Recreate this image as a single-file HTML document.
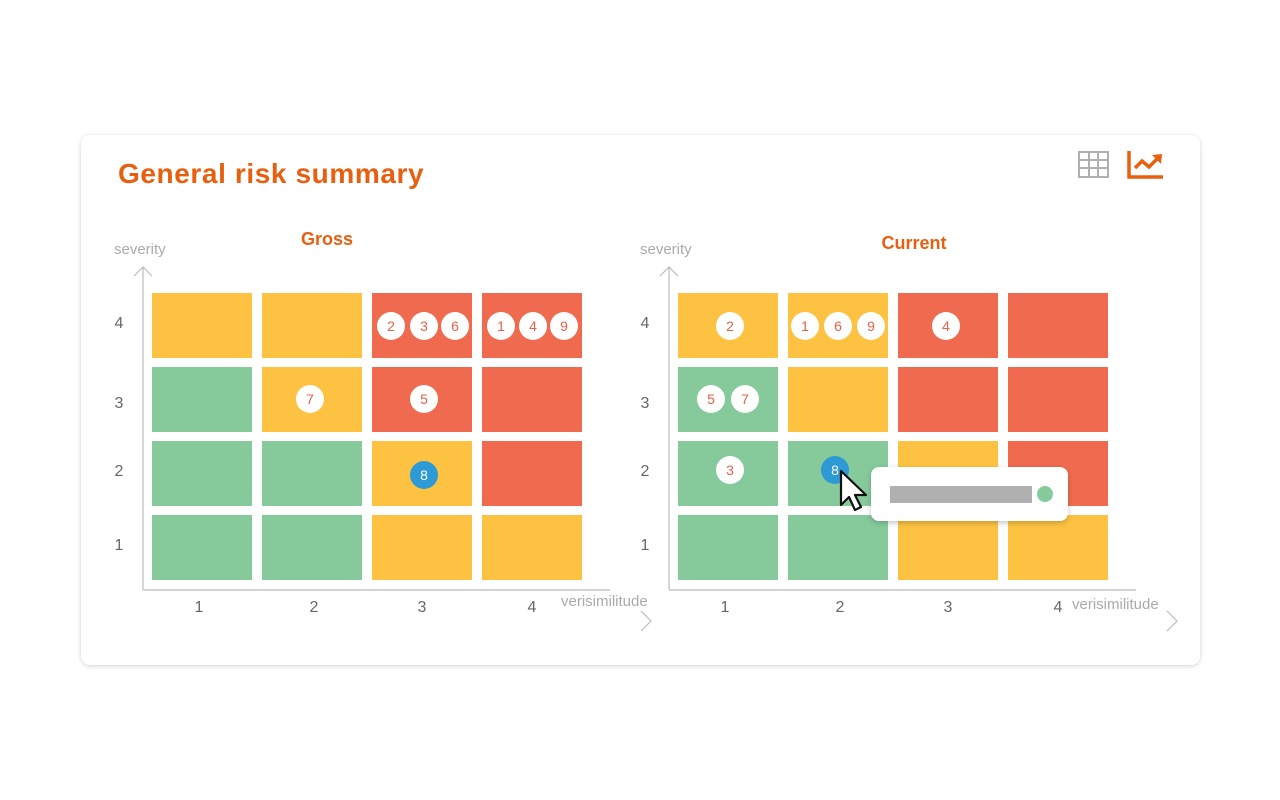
<!DOCTYPE html>
<html><head><meta charset="utf-8"><style>
html,body{margin:0;padding:0;background:#fff;width:1280px;height:800px;overflow:hidden}
svg{display:block}
text{font-family:"Liberation Sans",sans-serif}
</style></head><body>
<svg width="1280" height="800" viewBox="0 0 1280 800" xmlns="http://www.w3.org/2000/svg">
<defs>
<filter id="sh" x="-5%" y="-5%" width="110%" height="115%"><feDropShadow dx="0" dy="1" stdDeviation="2.5" flood-color="#000" flood-opacity="0.18"/></filter>
<filter id="sh2" x="-10%" y="-20%" width="120%" height="150%"><feDropShadow dx="0" dy="2" stdDeviation="3" flood-color="#000" flood-opacity="0.22"/></filter>
</defs>
<rect x="81" y="135" width="1119" height="530" rx="9" fill="#fff" filter="url(#sh)"/>
<text x="118" y="183" font-size="28" font-weight="bold" fill="#E8600F" letter-spacing="0.6">General risk summary</text>
<g stroke="#B0B0B0" stroke-width="2" fill="none">
<rect x="1079" y="152" width="29" height="25"/>
<line x1="1089" y1="152" x2="1089" y2="177"/><line x1="1098" y1="152" x2="1098" y2="177"/>
<line x1="1079" y1="160" x2="1108" y2="160"/><line x1="1079" y1="168" x2="1108" y2="168"/>
</g>
<g stroke="#E8600F" stroke-width="3.5" fill="none">
<polyline points="1129,151 1129,177 1163,177"/>
<polyline points="1135,168 1142,161 1149,167 1158,158"/>
</g>
<polygon points="1152,155 1162,154 1161,164" fill="#E8600F"/>

<text x="327" y="245" font-size="18" font-weight="bold" fill="#E8600F" text-anchor="middle">Gross</text>
<text x="114" y="254" font-size="15" fill="#aaa">severity</text>
<g stroke="#bbb" stroke-width="1.2" fill="none">
<line x1="143" y1="267" x2="143" y2="590"/>
<polyline points="134,276 143,267 152,276"/>
<line x1="143" y1="590" x2="610" y2="590"/>
<polyline points="641,611 651,621 641,631"/>
</g>
<text x="561" y="606" font-size="15" fill="#aaa">verisimilitude</text>
<g font-size="16" fill="#666" text-anchor="middle">
<text x="119" y="328">4</text><text x="119" y="408">3</text><text x="119" y="476">2</text><text x="119" y="550">1</text>
<text x="199" y="612">1</text><text x="314" y="612">2</text><text x="422" y="612">3</text><text x="532" y="612">4</text>
</g>
<g>
<rect x="152" y="293" width="100" height="65" fill="#FDC241"/>
<rect x="262" y="293" width="100" height="65" fill="#FDC241"/>
<rect x="372" y="293" width="100" height="65" fill="#F06A50"/>
<rect x="482" y="293" width="100" height="65" fill="#F06A50"/>
<rect x="152" y="367" width="100" height="65" fill="#86CA9C"/>
<rect x="262" y="367" width="100" height="65" fill="#FDC241"/>
<rect x="372" y="367" width="100" height="65" fill="#F06A50"/>
<rect x="482" y="367" width="100" height="65" fill="#F06A50"/>
<rect x="152" y="441" width="100" height="65" fill="#86CA9C"/>
<rect x="262" y="441" width="100" height="65" fill="#86CA9C"/>
<rect x="372" y="441" width="100" height="65" fill="#FDC241"/>
<rect x="482" y="441" width="100" height="65" fill="#F06A50"/>
<rect x="152" y="515" width="100" height="65" fill="#86CA9C"/>
<rect x="262" y="515" width="100" height="65" fill="#86CA9C"/>
<rect x="372" y="515" width="100" height="65" fill="#FDC241"/>
<rect x="482" y="515" width="100" height="65" fill="#FDC241"/>
</g>

<text x="914" y="249" font-size="18" font-weight="bold" fill="#E8600F" text-anchor="middle">Current</text>
<text x="640" y="254" font-size="15" fill="#aaa">severity</text>
<g stroke="#bbb" stroke-width="1.2" fill="none">
<line x1="669" y1="267" x2="669" y2="590"/>
<polyline points="660,276 669,267 678,276"/>
<line x1="669" y1="590" x2="1136" y2="590"/>
<polyline points="1167,611 1177,621 1167,631"/>
</g>
<text x="1072" y="609" font-size="15" fill="#aaa">verisimilitude</text>
<g font-size="16" fill="#666" text-anchor="middle">
<text x="645" y="328">4</text><text x="645" y="408">3</text><text x="645" y="476">2</text><text x="645" y="550">1</text>
<text x="725" y="612">1</text><text x="840" y="612">2</text><text x="948" y="612">3</text><text x="1058" y="612">4</text>
</g>
<g>
<rect x="678" y="293" width="100" height="65" fill="#FDC241"/>
<rect x="788" y="293" width="100" height="65" fill="#FDC241"/>
<rect x="898" y="293" width="100" height="65" fill="#F06A50"/>
<rect x="1008" y="293" width="100" height="65" fill="#F06A50"/>
<rect x="678" y="367" width="100" height="65" fill="#86CA9C"/>
<rect x="788" y="367" width="100" height="65" fill="#FDC241"/>
<rect x="898" y="367" width="100" height="65" fill="#F06A50"/>
<rect x="1008" y="367" width="100" height="65" fill="#F06A50"/>
<rect x="678" y="441" width="100" height="65" fill="#86CA9C"/>
<rect x="788" y="441" width="100" height="65" fill="#86CA9C"/>
<rect x="898" y="441" width="100" height="65" fill="#FDC241"/>
<rect x="1008" y="441" width="100" height="65" fill="#F06A50"/>
<rect x="678" y="515" width="100" height="65" fill="#86CA9C"/>
<rect x="788" y="515" width="100" height="65" fill="#86CA9C"/>
<rect x="898" y="515" width="100" height="65" fill="#FDC241"/>
<rect x="1008" y="515" width="100" height="65" fill="#FDC241"/>
</g>

<g fill="#fff">
<circle cx="391" cy="326" r="14"/><circle cx="424" cy="326" r="14"/><circle cx="455" cy="326" r="14"/>
<circle cx="501" cy="326" r="14"/><circle cx="533" cy="326" r="14"/><circle cx="564" cy="326" r="14"/>
<circle cx="310" cy="399" r="14"/><circle cx="424" cy="399" r="14"/>
<circle cx="730" cy="326" r="14"/>
<circle cx="805" cy="326" r="14"/><circle cx="838" cy="326" r="14"/><circle cx="871" cy="326" r="14"/>
<circle cx="946" cy="326" r="14"/>
<circle cx="711" cy="399" r="14"/><circle cx="745" cy="399" r="14"/>
<circle cx="730" cy="470" r="14"/>
</g>
<circle cx="424" cy="475" r="14" fill="#2D9AD5"/>
<circle cx="835" cy="470" r="14" fill="#2D9AD5"/>
<g font-size="14" fill="#E8604A" text-anchor="middle">
<text x="391" y="331">2</text><text x="424" y="331">3</text><text x="455" y="331">6</text>
<text x="501" y="331">1</text><text x="533" y="331">4</text><text x="564" y="331">9</text>
<text x="310" y="404">7</text><text x="424" y="404">5</text>
<text x="730" y="331">2</text>
<text x="805" y="331">1</text><text x="838" y="331">6</text><text x="871" y="331">9</text>
<text x="946" y="331">4</text>
<text x="711" y="404">5</text><text x="745" y="404">7</text>
<text x="730" y="475">3</text>
</g>
<text x="424" y="480" font-size="14" fill="#fff" text-anchor="middle">8</text>
<text x="835" y="475" font-size="14" fill="#fff" text-anchor="middle">8</text>

<rect x="871" y="467" width="197" height="54" rx="8" fill="#fff" filter="url(#sh2)"/>
<rect x="890" y="486" width="142" height="17" fill="#B0B0B0"/>
<circle cx="1045" cy="494" r="8" fill="#86CA9C"/>

<polygon points="841,471 841,505 849,497 855,510 861,507 855,495 866,495" fill="#fff" stroke="#111" stroke-width="2.2" stroke-linejoin="round"/>
</svg>
</body></html>
